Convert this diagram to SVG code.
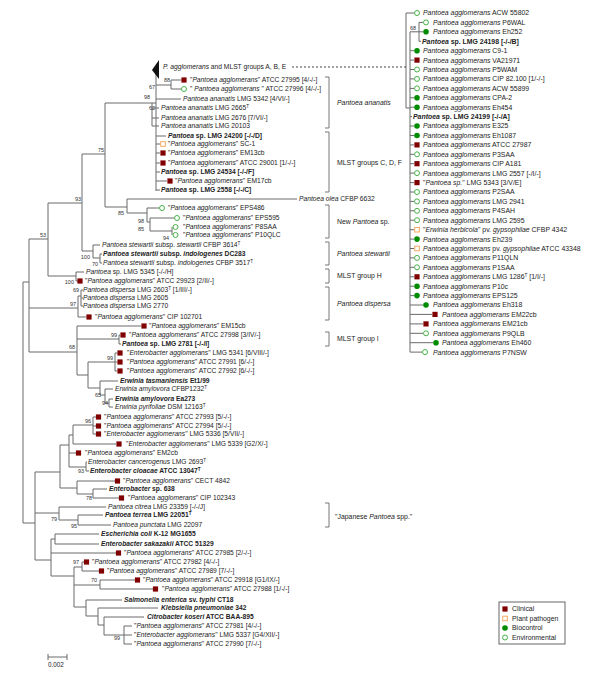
<svg xmlns="http://www.w3.org/2000/svg" xmlns:xlink="http://www.w3.org/1999/xlink" width="600" height="689" viewBox="0 0 600 689">
<style>
text{font-family:"Liberation Sans",Arial,sans-serif;font-size:6.7px;fill:#222}
.r{font-size:6.9px}
.i{font-style:italic}
.b{font-weight:bold}
.bs{font-size:5.5px;text-anchor:end;fill:#333}
.lab{font-size:6.9px}
.sup{font-size:4.6px}
.ln{stroke:#6a6a6a;stroke-width:1;fill:none}
.br{stroke:#777;stroke-width:1;fill:none}
</style>
<defs>
<rect id="sq" x="-2.6" y="-2.6" width="5.2" height="5.2" fill="#800000"/>
<rect id="pp" x="-2.3" y="-2.3" width="4.6" height="4.6" fill="#fff" stroke="#f5a050" stroke-width="0.9"/>
<circle id="bc" r="2.8" fill="#008c00"/>
<circle id="en" r="2.5" fill="#fff" stroke="#33aa33" stroke-width="0.9"/>
</defs>
<rect width="600" height="689" fill="#fff"/>
<g id="connectors">
<path class="ln" d="M23 282V523M23 282H29M29 239V352M29 239H48M48 203V276M48 203H82M48 276H76M76 272V281M76 272H84M76 281H78M82 154V251M82 154H105M82 251H93M93 245V258M93 245H100M93 258H100M100 254V263M100 254H102M100 263H102M105 103V207M105 103H156M105 207H127M127 199V213M127 199H297M127 213H147M147 208V222M147 208H159M147 222H150M150 218V231M150 218H174M150 231H172M172 227V235"/>
<path class="ln" d="M152 103V126M152 108H159M152 118H159M152 126H159M156 69V191M156 85H171M171 80V89M171 80H181M171 89H181M156 99H181M156 136H166M156 144H160M156 153H160M156 163H160M156 172H160M156 181H167M156 190H160"/>
<path class="ln" d="M29 308H78M78 296V317M78 296H81M81 290V306M81 290H83M81 298H83M81 306H83M78 317H86M29 352H77M77 326V375M77 326H141M77 339H119M119 335V344M119 335H120M119 344H121M77 375H88M88 362V388M88 362H115M115 353V371M115 353H117M115 362H117M115 371H117M88 388H100M100 381V395M100 381H118M100 395H105M105 389V403M105 389H113M105 403H109M109 399V407M109 399H113M109 407H113"/>
<path class="ln" d="M23 523H35M35 472V560M35 472H60M60 445V488M60 445H69M69 435V467M69 435H73M73 425V444M73 425H93M93 417V434M93 417H96M93 426H96M93 434H96M73 444H116M69 453H76M69 467H86M86 462V471M86 462H87M86 471H89M60 488H77M77 481V494M77 481H115M77 494H93M93 489V498M93 489H107M93 498H119M35 513H59M59 507V520M59 507H106M59 520H78M78 515V525M78 515H103M78 525H111"/>
<path class="ln" d="M35 560H51M51 539V576M51 539H55M55 534V544M55 534H99M55 544H99M51 553H116M51 576H74M74 567V607M74 567H82M82 562V571M82 562H84M82 571H99M74 585H100M100 580V589M100 580H135M100 589H153M74 607H86M86 600V616M86 600H122M86 616H98M98 608V625M98 608H158M98 625H104M104 617V635M104 617H144M104 635H124M124 626V644M124 626H132M124 635H132M124 644H132"/>
<path class="ln" d="M406 13V108M406 13H414M406 108H410M410 31.8V352.1M410 31.8H419M419 22.4V41.3M419 22.4H423M419 31.8H423M419 41.3H421M410 50.7H414M410 60.1H414M410 69.5H414M410 78.9H414M410 88.4H414M410 97.8H414M410 107.2H414M410 116.6H412M410 126H414M410 135.5H414M410 144.9H414M410 154.3H414M410 163.7H414M410 173.1H414M410 182.6H414M410 192H414M410 201.4H414M410 210.8H414M410 220.2H414M410 229.7H414M410 239.1H414M410 248.5H414M410 257.9H414M410 267.3H414M410 276.8H414M410 286.2H414M410 295.6H414M410 305H423M410 314.4H432M410 323.9H423M410 333.3H423M410 342.7H433M410 352.1H422"/>
<path d="M292 67H406" stroke="#333" stroke-width="0.9" stroke-dasharray="2 2" fill="none"/>
</g>
<g id="bootstrap">
<text class="bs" x="46" y="237">53</text><text class="bs" x="81" y="201">93</text><text class="bs" x="74" y="284">100</text><text class="bs" x="104" y="152">75</text><text class="bs" x="90" y="259">100</text><text class="bs" x="98" y="266">70</text><text class="bs" x="150" y="99">98</text><text class="bs" x="155" y="110">62</text><text class="bs" x="155" y="89">67</text><text class="bs" x="170" y="82">88</text><text class="bs" x="124" y="215">85</text><text class="bs" x="144" y="223">98</text><text class="bs" x="144" y="231">85</text><text class="bs" x="169" y="240">94</text><text class="bs" x="79" y="292">69</text><text class="bs" x="76" y="306">97</text><text class="bs" x="75" y="349">68</text><text class="bs" x="117" y="337">99</text><text class="bs" x="113" y="360">99</text><text class="bs" x="101" y="397">65</text><text class="bs" x="108" y="405">94</text><text class="bs" x="91" y="423">96</text><text class="bs" x="84" y="473">93</text><text class="bs" x="92" y="500">78</text><text class="bs" x="57" y="521">79</text><text class="bs" x="77" y="528">95</text><text class="bs" x="79" y="564">97</text><text class="bs" x="97" y="582">70</text><text class="bs" x="120" y="640">99</text><text class="bs" x="416" y="30">68</text>
</g>
<g id="n_pagg"><polygon points="152,70 159,60 159,79" fill="#111"/><text x="163" y="69.3"><tspan class="i">P. agglomerans</tspan> and MLST groups A, B, E</text></g>
<g id="n27995"><use href="#sq" x="184" y="80"/><text x="190" y="82.3">"<tspan class="i">Pantoea agglomerans</tspan>" ATCC 27995 [4/-/-]</text></g>
<g id="n27996"><use href="#en" x="184" y="89"/><text x="190" y="91.3">" <tspan class="i">Pantoea agglomerans</tspan> " ATCC 27996 [4/-/-]</text></g>
<g id="n5342"><text x="183" y="101.3"><tspan class="i">Pantoea ananatis</tspan> LMG 5342 [4/VI/-]</text></g>
<g id="n2665"><text x="161" y="110.3"><tspan class="i">Pantoea ananatis</tspan> LMG 2665<tspan class="sup" dy="-2.4">T</tspan></text></g>
<g id="n2676"><text x="161" y="120.3"><tspan class="i">Pantoea ananatis</tspan> LMG 2676 [7/VI/-]</text></g>
<g id="n20103"><text x="161" y="128.3"><tspan class="i">Pantoea ananatis</tspan> LMG 20103</text></g>
<g id="n24200"><text class="b" x="168" y="138.3"><tspan class="i">Pantoea</tspan> sp. LMG 24200 [-/-/D]</text></g>
<g id="nSC1"><use href="#pp" x="163" y="144"/><text x="168" y="146.3">"<tspan class="i">Pantoea agglomerans</tspan>" SC-1</text></g>
<g id="nEM13"><use href="#sq" x="163" y="153"/><text x="168" y="155.3">"<tspan class="i">Pantoea agglomerans</tspan>" EM13cb</text></g>
<g id="n29001"><use href="#sq" x="163" y="163"/><text x="168" y="165.3">"<tspan class="i">Pantoea agglomerans</tspan>" ATCC 29001 [1/-/-]</text></g>
<g id="n24534"><text class="b" x="161" y="174.3"><tspan class="i">Pantoea</tspan> sp. LMG 24534 [-/-/F]</text></g>
<g id="nEM17"><use href="#sq" x="170" y="181"/><text x="175" y="183.3">"<tspan class="i">Pantoea agglomerans</tspan>" EM17cb</text></g>
<g id="n2558"><text class="b" x="161" y="192.3"><tspan class="i">Pantoea</tspan> sp. LMG 2558 [-/-/C]</text></g>
<g id="nolea"><text x="299" y="201.3"><tspan class="i">Pantoea olea</tspan> CFBP 6632</text></g>
<g id="nEPS486"><use href="#en" x="162" y="208"/><text x="168" y="210.3">"<tspan class="i">Pantoea agglomerans</tspan>" EPS486</text></g>
<g id="nEPS595"><use href="#en" x="177" y="218"/><text x="183" y="220.3">"<tspan class="i">Pantoea agglomerans</tspan>" EPS595</text></g>
<g id="nP8SAA"><use href="#en" x="175.5" y="227"/><text x="183" y="229.3">"<tspan class="i">Pantoea agglomerans</tspan>" P8SAA</text></g>
<g id="nP10QLC"><use href="#en" x="175.5" y="235"/><text x="183" y="237.3">"<tspan class="i">Pantoea agglomerans</tspan>" P10QLC</text></g>
<g id="n3614"><text x="102" y="247.3"><tspan class="i">Pantoea stewartii</tspan> subsp. <tspan class="i">stewartii</tspan> CFBP 3614<tspan class="sup" dy="-2.4">T</tspan></text></g>
<g id="nDC283"><text class="b" x="103" y="256.3"><tspan class="i">Pantoea stewartii</tspan> subsp. <tspan class="i">indologenes</tspan> DC283</text></g>
<g id="n3517"><text x="103" y="265.3"><tspan class="i">Pantoea stewartii</tspan> subsp. <tspan class="i">indologenes</tspan> CFBP 3517<tspan class="sup" dy="-2.4">T</tspan></text></g>
<g id="n5345"><text x="86" y="274.3"><tspan class="i">Pantoea</tspan> sp. LMG 5345 [-/-/H]</text></g>
<g id="n29923"><use href="#sq" x="80" y="281"/><text x="85" y="283.3">"<tspan class="i">Pantoea agglomerans</tspan>" ATCC 29923 [2/II/-]</text></g>
<g id="n2603"><text x="83" y="292.3"><tspan class="i">Pantoea dispersa</tspan> LMG 2603<tspan class="sup" dy="-2.4">T</tspan><tspan dy="2.4"> [1/III/-]</tspan></text></g>
<g id="n2605"><text x="83" y="300.3"><tspan class="i">Pantoea dispersa</tspan> LMG 2605</text></g>
<g id="n2770"><text x="83" y="308.3"><tspan class="i">Pantoea dispersa</tspan> LMG 2770</text></g>
<g id="n102701"><use href="#sq" x="89" y="317"/><text x="95" y="319.3">"<tspan class="i">Pantoea agglomerans</tspan>" CIP 102701</text></g>
<g id="nEM15"><use href="#sq" x="144" y="326"/><text x="149" y="328.3">"<tspan class="i">Pantoea agglomerans</tspan>" EM15cb</text></g>
<g id="n27998"><use href="#sq" x="123" y="335"/><text x="129" y="337.3">"<tspan class="i">Pantoea agglomerans</tspan>" ATCC 27998 [3/IV/-]</text></g>
<g id="n2781"><text class="b" x="122" y="346.3"><tspan class="i">Pantoea</tspan> sp. LMG 2781 [-/-/I]</text></g>
<g id="n5341"><use href="#sq" x="120" y="353"/><text x="127" y="355.3">"<tspan class="i">Enterobacter agglomerans</tspan>" LMG 5341 [6/VIII/-]</text></g>
<g id="n27991"><use href="#sq" x="120" y="362"/><text x="127" y="364.3">"<tspan class="i">Pantoea agglomerans</tspan>" ATCC 27991 [6/-/-]</text></g>
<g id="n27992"><use href="#sq" x="120" y="371"/><text x="127" y="373.3">"<tspan class="i">Pantoea agglomerans</tspan>" ATCC 27992 [6/-/-]</text></g>
<g id="nEt199"><text class="b" x="120" y="383.3"><tspan class="i">Erwinia tasmaniensis</tspan> Et1/99</text></g>
<g id="n1232"><text x="115" y="391.3"><tspan class="i">Erwinia amylovora</tspan> CFBP1232<tspan class="sup" dy="-2.4">T</tspan></text></g>
<g id="nEa273"><text class="b" x="115" y="401.3"><tspan class="i">Erwinia amylovora</tspan> Ea273</text></g>
<g id="nDSM"><text x="115" y="409.3"><tspan class="i">Erwinia pyrifoliae</tspan> DSM 12163<tspan class="sup" dy="-2.4">T</tspan></text></g>
<g id="n27993"><use href="#sq" x="98.5" y="417"/><text x="104" y="419.3">"<tspan class="i">Pantoea agglomerans</tspan>" ATCC 27993 [5/-/-]</text></g>
<g id="n27994"><use href="#sq" x="98.5" y="426"/><text x="104" y="428.3">"<tspan class="i">Pantoea agglomerans</tspan>" ATCC 27994 [5/-/-]</text></g>
<g id="n5336"><use href="#sq" x="98.5" y="434"/><text x="104" y="436.3">"<tspan class="i">Enterobacter agglomerans</tspan>" LMG 5336 [5/VII/-]</text></g>
<g id="n5339"><use href="#sq" x="119" y="444"/><text x="126" y="446.3">"<tspan class="i">Enterobacter agglomerans</tspan>" LMG 5339 [G2/X/-]</text></g>
<g id="nEM2"><use href="#sq" x="78.5" y="453"/><text x="85" y="455.3">"<tspan class="i">Pantoea agglomerans</tspan>" EM2cb</text></g>
<g id="n2693"><text x="88" y="464.3"><tspan class="i">Enterobacter cancerogenus</tspan> LMG 2693<tspan class="sup" dy="-2.4">T</tspan></text></g>
<g id="ncloacae"><text class="b" x="90" y="473.3"><tspan class="i">Enterobacter cloacae</tspan> ATCC 13047<tspan class="sup" dy="-2.4">T</tspan></text></g>
<g id="nCECT"><use href="#sq" x="117.5" y="481"/><text x="123" y="483.3">"<tspan class="i">Pantoea agglomerans</tspan>" CECT 4842</text></g>
<g id="n638"><text class="b" x="109" y="491.3"><tspan class="i">Enterobacter</tspan> sp. 638</text></g>
<g id="n102343"><use href="#sq" x="121.5" y="498"/><text x="128" y="500.3">"<tspan class="i">Pantoea agglomerans</tspan>" CIP 102343</text></g>
<g id="ncitrea"><text x="108" y="509.3"><tspan class="i">Pantoea citrea</tspan> LMG 23359 [-/-/J]</text></g>
<g id="nterrea"><text class="b" x="105" y="517.3"><tspan class="i">Pantoea terrea</tspan> LMG 22051<tspan class="sup" dy="-2.4">T</tspan></text></g>
<g id="npunctata"><text x="113" y="527.3"><tspan class="i">Pantoea punctata</tspan> LMG 22097</text></g>
<g id="necoli"><text class="b" x="101" y="536.3"><tspan class="i">Escherichia coli</tspan> K-12 MG1655</text></g>
<g id="nsak"><text class="b" x="101" y="546.3"><tspan class="i">Enterobacter sakazakii</tspan> ATCC 51329</text></g>
<g id="n27985"><use href="#sq" x="118.5" y="553"/><text x="124" y="555.3">"<tspan class="i">Pantoea agglomerans</tspan>" ATCC 27985 [2/-/-]</text></g>
<g id="n27982"><use href="#sq" x="86.5" y="562"/><text x="92" y="564.3">"<tspan class="i">Pantoea agglomerans</tspan>" ATCC 27982 [4/-/-]</text></g>
<g id="n27989"><use href="#sq" x="101.5" y="571"/><text x="107" y="573.3">"<tspan class="i">Pantoea agglomerans</tspan>" ATCC 27989 [7/-/-]</text></g>
<g id="n29918"><use href="#sq" x="137.5" y="580"/><text x="143" y="582.3">"<tspan class="i">Pantoea agglomerans</tspan>" ATCC 29918 [G1/IX/-]</text></g>
<g id="n27988"><use href="#sq" x="155.5" y="589"/><text x="162" y="591.3">"<tspan class="i">Pantoea agglomerans</tspan>" ATCC 27988 [1/-/-]</text></g>
<g id="nsalm"><text class="b" x="124" y="602.3"><tspan class="i">Salmonella enterica</tspan> sv. <tspan class="i">typhi</tspan> CT18</text></g>
<g id="nkleb"><text class="b" x="161" y="610.3"><tspan class="i">Klebsiella pneumoniae</tspan> 342</text></g>
<g id="ncitro"><text class="b" x="147" y="619.3"><tspan class="i">Citrobacter koseri</tspan> ATCC BAA-895</text></g>
<g id="n27981"><text x="134" y="628.3">"<tspan class="i">Pantoea agglomerans</tspan>" ATCC 27981 [4/-/-]</text></g>
<g id="n5337"><text x="134" y="637.3">"<tspan class="i">Enterobacter agglomerans</tspan>" LMG 5337 [G4/XII/-]</text></g>
<g id="n27990"><text x="134" y="646.3">"<tspan class="i">Pantoea agglomerans</tspan>" ATCC 27990 [7/-/-]</text></g>
<g id="scale"><path class="ln" d="M48 657H67M48 654V660M67 654V660"/><text x="48" y="667" style="font-size:6.3px">0.002</text></g>
<g id="brackets">
<path class="br" d="M325 77H329V128H325M325 132H329V192H325M325 205H329V238H325M325 242H329V265H325M325 269H329V283H325M325 287H329V320H325M325 332H329V346H325M325 503H329V527H325"/>
<text class="lab i" x="337" y="105.4">Pantoea ananatis</text>
<text class="lab" x="337" y="165.4">MLST groups C, D, F</text>
<text class="lab" x="337" y="224.4">New <tspan class="i">Pantoea</tspan> sp.</text>
<text class="lab i" x="337" y="256.4">Pantoea stewartii</text>
<text class="lab" x="337" y="278.4">MLST group H</text>
<text class="lab i" x="337" y="306.4">Pantoea dispersa</text>
<text class="lab" x="337" y="341.4">MLST group I</text>
<text class="lab" x="335" y="519.4">"Japanese <tspan class="i">Pantoea</tspan> spp."</text>
</g>
<g id="right" class="r">
<g id="rACW55802"><use href="#en" x="417" y="13"/><text class="r" x="423" y="15.4"><tspan class="i">Pantoea agglomerans</tspan> ACW 55802</text></g>
<g id="rP6WAL"><use href="#en" x="426" y="22.4"/><text class="r" x="433" y="24.8"><tspan class="i">Pantoea agglomerans</tspan> P6WAL</text></g>
<g id="rEh252"><use href="#bc" x="426" y="31.8"/><text class="r" x="433" y="34.2"><tspan class="i">Pantoea agglomerans</tspan> Eh252</text></g>
<g id="r24198"><text class="r b" x="422" y="43.7"><tspan class="i">Pantoea</tspan> sp. LMG 24198 [-/-/B]</text></g>
<g id="rC91"><use href="#bc" x="417" y="50.7"/><text class="r" x="423" y="53.1"><tspan class="i">Pantoea agglomerans</tspan> C9-1</text></g>
<g id="rVA21971"><use href="#sq" x="417" y="60.1"/><text class="r" x="423" y="62.5"><tspan class="i">Pantoea agglomerans</tspan> VA21971</text></g>
<g id="rP5WAM"><use href="#en" x="417" y="69.5"/><text class="r" x="423" y="71.9"><tspan class="i">Pantoea agglomerans</tspan> P5WAM</text></g>
<g id="rCIP82"><use href="#en" x="417" y="78.9"/><text class="r" x="423" y="81.3"><tspan class="i">Pantoea agglomerans</tspan> CIP 82.100 [1/-/-]</text></g>
<g id="rACW55899"><use href="#en" x="417" y="88.4"/><text class="r" x="423" y="90.8"><tspan class="i">Pantoea agglomerans</tspan> ACW 55899</text></g>
<g id="rCPA2"><use href="#bc" x="417" y="97.8"/><text class="r" x="423" y="100.2"><tspan class="i">Pantoea agglomerans</tspan> CPA-2</text></g>
<g id="rEh454"><use href="#bc" x="417" y="107.2"/><text class="r" x="423" y="109.6"><tspan class="i">Pantoea agglomerans</tspan> Eh454</text></g>
<g id="r24199"><text class="r b" x="413" y="119"><tspan class="i">Pantoea</tspan> sp. LMG 24199 [-/-/A]</text></g>
<g id="rE325"><use href="#bc" x="417" y="126"/><text class="r" x="423" y="128.4"><tspan class="i">Pantoea agglomerans</tspan> E325</text></g>
<g id="rEh1087"><use href="#bc" x="417" y="135.5"/><text class="r" x="423" y="137.9"><tspan class="i">Pantoea agglomerans</tspan> Eh1087</text></g>
<g id="r27987"><use href="#sq" x="417" y="144.9"/><text class="r" x="423" y="147.3"><tspan class="i">Pantoea agglomerans</tspan> ATCC 27987</text></g>
<g id="rP3SAA"><use href="#en" x="417" y="154.3"/><text class="r" x="423" y="156.7"><tspan class="i">Pantoea agglomerans</tspan> P3SAA</text></g>
<g id="rA181"><use href="#sq" x="417" y="163.7"/><text class="r" x="423" y="166.1"><tspan class="i">Pantoea agglomerans</tspan> CIP A181</text></g>
<g id="r2557"><use href="#en" x="417" y="173.1"/><text class="r" x="423" y="175.5"><tspan class="i">Pantoea agglomerans</tspan> LMG 2557 [-/I/-]</text></g>
<g id="r5343"><use href="#sq" x="417" y="182.6"/><text class="r" x="423" y="185">"<tspan class="i">Pantoea sp.</tspan>" LMG 5343 [3/V/E]</text></g>
<g id="rP2SAA"><use href="#en" x="417" y="192"/><text class="r" x="423" y="194.4"><tspan class="i">Pantoea agglomerans</tspan> P2SAA</text></g>
<g id="r2941"><use href="#en" x="417" y="201.4"/><text class="r" x="423" y="203.8"><tspan class="i">Pantoea agglomerans</tspan> LMG 2941</text></g>
<g id="rP4SAH"><use href="#en" x="417" y="210.8"/><text class="r" x="423" y="213.2"><tspan class="i">Pantoea agglomerans</tspan> P4SAH</text></g>
<g id="r2595"><use href="#en" x="417" y="220.2"/><text class="r" x="423" y="222.6"><tspan class="i">Pantoea agglomerans</tspan> LMG 2595</text></g>
<g id="r4342"><use href="#pp" x="417" y="229.7"/><text class="r" x="423" y="232.1">"<tspan class="i">Erwinia herbicola</tspan>" pv. <tspan class="i">gypsophilae</tspan> CFBP 4342</text></g>
<g id="rEh239"><use href="#bc" x="417" y="239.1"/><text class="r" x="423" y="241.5"><tspan class="i">Pantoea agglomerans</tspan> Eh239</text></g>
<g id="r43348"><use href="#pp" x="417" y="248.5"/><text class="r" x="423" y="250.9"><tspan class="i">Pantoea agglomerans</tspan> pv. <tspan class="i">gypsophilae</tspan> ATCC 43348</text></g>
<g id="rP11QLN"><use href="#en" x="417" y="257.9"/><text class="r" x="423" y="260.3"><tspan class="i">Pantoea agglomerans</tspan> P11QLN</text></g>
<g id="rP1SAA"><use href="#en" x="417" y="267.3"/><text class="r" x="423" y="269.7"><tspan class="i">Pantoea agglomerans</tspan> P1SAA</text></g>
<g id="r1286"><use href="#sq" x="417" y="276.8"/><text class="r" x="423" y="279.2"><tspan class="i">Pantoea agglomerans</tspan> LMG 1286<tspan class="sup" dy="-2.4">T</tspan><tspan dy="2.4"> [1/I/-]</tspan></text></g>
<g id="rP10c"><use href="#bc" x="417" y="286.2"/><text class="r" x="423" y="288.6"><tspan class="i">Pantoea agglomerans</tspan> P10c</text></g>
<g id="rEPS125"><use href="#bc" x="417" y="295.6"/><text class="r" x="423" y="298"><tspan class="i">Pantoea agglomerans</tspan> EPS125</text></g>
<g id="rEh318"><use href="#bc" x="426" y="305"/><text class="r" x="433" y="307.4"><tspan class="i">Pantoea agglomerans</tspan> Eh318</text></g>
<g id="rEM22"><use href="#sq" x="435" y="314.4"/><text class="r" x="442" y="316.8"><tspan class="i">Pantoea agglomerans</tspan> EM22cb</text></g>
<g id="rEM21"><use href="#sq" x="426" y="323.9"/><text class="r" x="433" y="326.3"><tspan class="i">Pantoea agglomerans</tspan> EM21cb</text></g>
<g id="rP9QLB"><use href="#en" x="426" y="333.3"/><text class="r" x="433" y="335.7"><tspan class="i">Pantoea agglomerans</tspan> P9QLB</text></g>
<g id="rEh460"><use href="#bc" x="436" y="342.7"/><text class="r" x="442" y="345.1"><tspan class="i">Pantoea agglomerans</tspan> Eh460</text></g>
<g id="rP7NSW"><use href="#en" x="425" y="352.1"/><text class="r" x="433" y="354.5"><tspan class="i">Pantoea agglomerans</tspan> P7NSW</text></g>
</g>
<g id="legend">
<rect x="499" y="602" width="66" height="42" fill="#fff" stroke="#555" stroke-width="0.9"/>
<use href="#sq" x="505" y="609"/><text class="r" x="512" y="611.4">Clinical</text>
<use href="#pp" x="505" y="618.5"/><text class="r" x="512" y="620.9">Plant pathogen</text>
<use href="#bc" x="505" y="628"/><text class="r" x="512" y="630.4">Biocontrol</text>
<use href="#en" x="505" y="637.5"/><text class="r" x="512" y="639.9">Environmental</text>
</g>
</svg>
